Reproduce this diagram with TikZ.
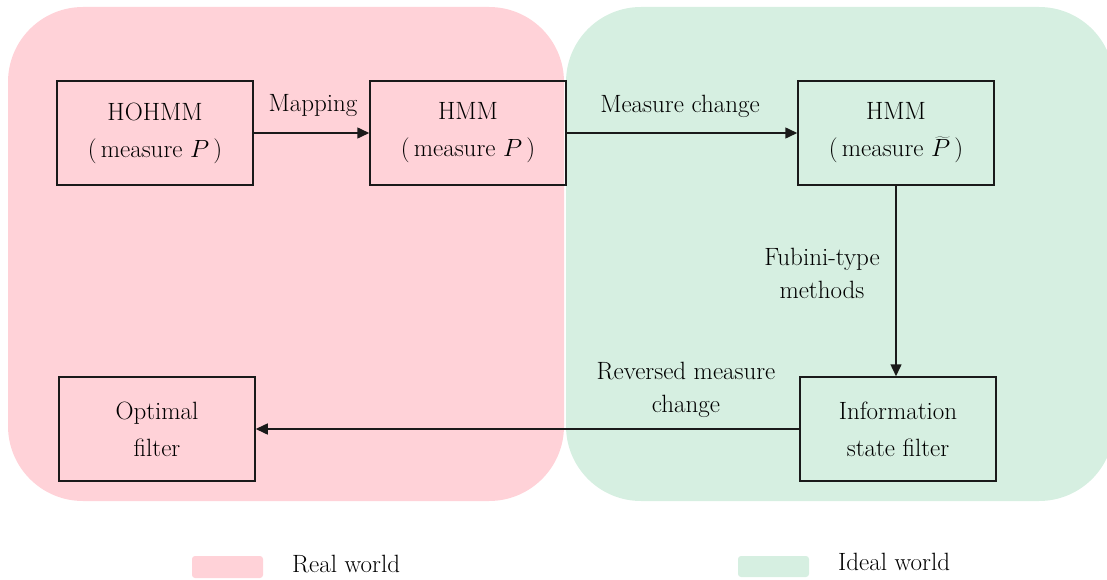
\documentclass[tikz,border=0pt]{standalone}
\usepackage{fontspec}
\setmainfont{Latin Modern Roman}
\usetikzlibrary{arrows.meta}
\definecolor{realc}{HTML}{FFD2D8}
\definecolor{idealc}{HTML}{D6EFE1}
\definecolor{linec}{HTML}{1A1A1A}
\begin{document}
\begin{tikzpicture}[x=1pt,y=-1pt,
  txt/.style={font=\fontsize{25}{33}\selectfont, align=center, inner sep=0pt},
  blk/.style={draw=linec, line width=1.5pt, minimum width=196pt, minimum height=104pt, align=center, font=\fontsize{25}{37}\selectfont, inner sep=0pt},
  conn/.style={draw=linec, line width=1.5pt, -{Triangle[length=12pt,width=11pt]}},
  region/.style={rounded corners=75pt}
]
\useasboundingbox (0,0) rectangle (1107,580);
% regions
\fill[realc, region] (8,7) rectangle (564,501);
\fill[idealc, region] (566,7) rectangle (1114,501);
% boxes
\node[blk] (hohmm) at (155,133) {HOHMM\\(\,measure $P$\,)};
\node[blk] (hmm1) at (468,133) {HMM\\(\,measure $P$\,)};
\node[blk] (hmm2) at (896,133) {HMM\\(\,measure $\widetilde{P}$\,)};
\node[blk] (opt) at (157,429) {Optimal\\filter};
\node[blk] (info) at (898,429) {Information\\state filter};
% connectors
\draw[conn] (hohmm) -- (hmm1);
\draw[conn] (hmm1) -- (hmm2);
\draw[conn] (hmm2.south) -- (hmm2.south |- info.north);
\draw[conn] (info) -- (opt);
% labels
\node[txt] (lmap) at (313,106) {Mapping};
\node[txt] (lmc) at (680,106) {Measure change};
\node[txt] (lfub) at (822,273) {Fubini-type\\methods};
\node[txt] (lrev) at (686,390) {Reversed measure\\change};
% legend
\fill[realc, rounded corners=3pt] (192,556) rectangle (263,578);
\node[txt, anchor=west] (lreal) at (292,564) {Real world};
\fill[idealc, rounded corners=3pt] (738,556) rectangle (809,577);
\node[txt, anchor=west] (lideal) at (838,562) {Ideal world};
\end{tikzpicture}
\end{document}
